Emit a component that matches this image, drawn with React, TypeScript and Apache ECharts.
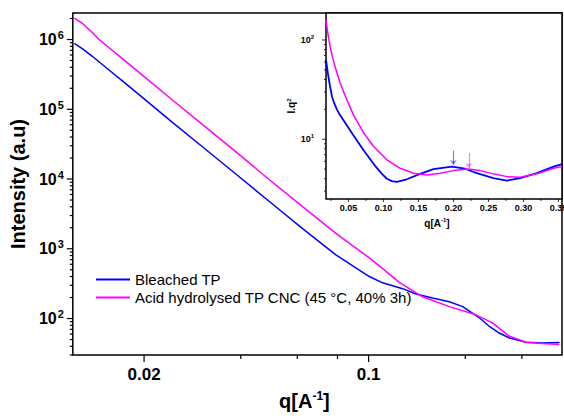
import React, { useEffect, useRef } from 'react';
import * as echarts from 'echarts';

const F = '"Liberation Sans", Arial, sans-serif';

// ---- Main plot data (q, intensity) ----
const qBleached = [0.01213, 0.01284, 0.0138, 0.01518, 0.01712, 0.01929, 0.0245, 0.03038, 0.0386, 0.049, 0.0623, 0.0791, 0.1005, 0.1106, 0.1276, 0.1404, 0.1582, 0.1784, 0.1963, 0.211, 0.225, 0.2378, 0.255, 0.2745, 0.309, 0.348, 0.393];
const iBleached = [8.8e5, 7.4e5, 5.75e5, 4.0e5, 2.55e5, 1.62e5, 6.5e4, 2.9e4, 1.18e4, 4800, 1950, 820, 400, 325, 268, 225, 197, 174, 148, 119, 96, 77, 62, 52.6, 45.7, 44.7, 45.2];

const qAcid = [0.01213, 0.01284, 0.0138, 0.01448, 0.01712, 0.01929, 0.0245, 0.0311, 0.0395, 0.049, 0.0623, 0.0791, 0.1005, 0.1106, 0.1246, 0.1473, 0.1784, 0.216, 0.2434, 0.2745, 0.309, 0.348, 0.393];
const iAcid = [2.03e6, 1.71e6, 1.26e6, 1.0e6, 5.32e5, 3.38e5, 1.36e5, 5.56e4, 2.26e4, 9840, 4010, 1660, 740, 520, 330, 205, 148, 113, 85.7, 55.6, 45.7, 43.8, 42.4];

// ---- Inset data (q, I.q^2) ----
const qInsetBleached = [0.018, 0.0205, 0.0235, 0.0265, 0.03, 0.0335, 0.037, 0.0453, 0.0571, 0.0714, 0.0881, 0.0975, 0.1049, 0.112, 0.1191, 0.1334, 0.1524, 0.1714, 0.1977, 0.2143, 0.2334, 0.2571, 0.2763, 0.2953, 0.3191, 0.3429, 0.3549];
const iqInsetBleached = [63, 47, 35, 27, 22.8, 20, 18, 14.7, 11, 7.8, 5.4, 4.5, 4.0, 3.78, 3.72, 3.95, 4.48, 4.99, 5.3, 5.1, 4.55, 4.05, 3.83, 4.05, 4.55, 5.3, 5.6];

const qInsetAcid = [0.018, 0.0205, 0.024, 0.0275, 0.031, 0.038, 0.0453, 0.0571, 0.0714, 0.0857, 0.1049, 0.1239, 0.1429, 0.162, 0.181, 0.2, 0.2214, 0.2381, 0.2571, 0.2763, 0.2953, 0.3191, 0.3429, 0.3549];
const iqInsetAcid = [159, 118, 85, 66, 53.8, 37, 27.5, 17.6, 11.7, 8.5, 6.2, 5.1, 4.55, 4.37, 4.55, 4.83, 5.02, 4.83, 4.48, 4.2, 4.14, 4.48, 5.1, 5.3];

const seriesNames = ['Bleached TP', 'Acid hydrolysed TP CNC (45 °C, 40% 3h)'];
const colors = ['#0000ff', '#ff00ff'];

// peak arrows in inset
const arrowQ = [0.2, 0.222];
const arrowTail = [7.7, 7.3];
const arrowTip = [5.5, 5.14];

// ---- Axes ----
const MAIN_X = [0.012, 0.4];
const MAIN_Y = [30, 2.4e6];
const INSET_X = [0.018, 0.355];
const INSET_Y = [2.5, 187];

const mainXMajorTicks = [0.02, 0.1];
const mainXMajorLabels = ['0.02', '0.1'];
const mainXMinorTicks = [0.04, 0.06, 0.08, 0.2, 0.3];
const mainYExponents = [1, 2, 3, 4, 5, 6];
const insetYExponents = [0, 1, 2];
const insetXMajorTicks = [0.05, 0.1, 0.15, 0.2, 0.25, 0.3, 0.35];
const insetXMajorLabels = ['0.05', '0.10', '0.15', '0.20', '0.25', '0.30', '0.35'];
const insetXMinorTicks = [0.025, 0.075, 0.125, 0.175, 0.225, 0.275, 0.325];

function logTicks(exps: number[], lo: number, hi: number): number[][] {
  const out: number[][] = [];
  exps.forEach((e) => {
    for (let k = 1; k <= 9; k++) {
      const v = k * Math.pow(10, e);
      if (v >= lo * 0.999 && v <= hi) out.push([v, k === 1 ? 1 : 0]);
    }
  });
  return out;
}

function tickSeries(o: any) {
  return {
    type: 'custom',
    xAxisIndex: o.axis,
    yAxisIndex: o.axis,
    silent: true,
    clip: false,
    z: 10,
    data: o.data,
    renderItem: (params: any, api: any) => {
      const p = api.coord([api.value(0), api.value(1)]);
      const major = api.value(2) === 1;
      const len = major ? o.majorLen : o.minorLen;
      const children: any[] = [];
      if (o.dir === 'x') {
        children.push({ type: 'line', shape: { x1: p[0], y1: p[1], x2: p[0], y2: p[1] + len }, style: { stroke: '#000', lineWidth: o.lw } });
      } else {
        children.push({ type: 'line', shape: { x1: p[0] - len, y1: p[1], x2: p[0], y2: p[1] }, style: { stroke: '#000', lineWidth: o.lw } });
      }
      const lbl = o.labels ? o.labels[params.dataIndex] : undefined;
      if (lbl) {
        children.push({
          type: 'text', x: p[0], y: p[1] + o.labelOffset,
          style: { text: lbl, fill: '#000', fontSize: o.fontSize, fontWeight: 'bold', fontFamily: F, align: 'center', verticalAlign: 'middle' },
        });
      }
      return { type: 'group', children };
    },
  };
}

function powLabel(v: number) {
  const l = Math.log10(v);
  const e = Math.round(l);
  if (Math.abs(l - e) > 1e-6) return '';
  return `{b|10}{s|${e}}`;
}

export default function App() {
  const ref = useRef<HTMLDivElement>(null);
  useEffect(() => {
    if (!ref.current) return;
    const chart = echarts.init(ref.current, null, { renderer: 'svg' });

    const mainYT = logTicks(mainYExponents, MAIN_Y[0], MAIN_Y[1]).map((t) => [MAIN_X[0], t[0], t[1]]);
    const insetYT = logTicks(insetYExponents, INSET_Y[0], INSET_Y[1]).map((t) => [INSET_X[0], t[0], t[1]]);
    const mainXT = [...mainXMajorTicks.map((v) => [v, MAIN_Y[0], 1]), ...mainXMinorTicks.map((v) => [v, MAIN_Y[0], 0])];
    const insetXT = [...insetXMajorTicks.map((v) => [v, INSET_Y[0], 1]), ...insetXMinorTicks.map((v) => [v, INSET_Y[0], 0])];

    chart.setOption({
      animation: false,
      backgroundColor: '#fff',
      textStyle: { fontFamily: F },
      grid: [
        { left: 72, top: 13, right: 2, bottom: 57, show: true, borderColor: '#000', borderWidth: 1.5, backgroundColor: 'transparent' },
        { left: 326, top: 13, right: 2, bottom: 217, show: true, borderColor: '#000', borderWidth: 1.5, backgroundColor: '#fff', z: 5 },
      ],
      legend: {
        data: seriesNames,
        orient: 'vertical',
        left: 91,
        top: 267,
        icon: 'rect',
        itemWidth: 34,
        itemHeight: 2,
        itemGap: 3,
        textStyle: { fontSize: 15, fontFamily: F, color: '#000' },
      },
      xAxis: [
        {
          type: 'log', gridIndex: 0, min: MAIN_X[0], max: MAIN_X[1],
          axisLine: { show: false }, axisTick: { show: false }, axisLabel: { show: false }, splitLine: { show: false },
          name: '{a|q[A}{s|-1}{a|]}', nameLocation: 'middle', nameGap: 35,
          nameTextStyle: {
            padding: [0, 26, 0, 0],
            rich: {
              a: { fontSize: 20, fontWeight: 'bold', fontFamily: F, color: '#000', lineHeight: 22 },
              s: { fontSize: 12, fontWeight: 'bold', fontFamily: F, color: '#000', verticalAlign: 'top', lineHeight: 12 },
            },
          },
        },
        {
          type: 'value', gridIndex: 1, min: INSET_X[0], max: INSET_X[1],
          axisLine: { show: false }, axisTick: { show: false }, axisLabel: { show: false }, splitLine: { show: false },
          name: '{a|q[A}{s|-1}{a|]}', nameLocation: 'middle', nameGap: 18,
          nameTextStyle: {
            padding: [0, 14, 0, 0],
            rich: {
              a: { fontSize: 10, fontWeight: 'bold', fontFamily: F, color: '#000', lineHeight: 12 },
              s: { fontSize: 6, fontWeight: 'bold', fontFamily: F, color: '#000', verticalAlign: 'top', lineHeight: 6 },
            },
          },
        },
      ],
      yAxis: [
        {
          type: 'log', gridIndex: 0, min: MAIN_Y[0], max: MAIN_Y[1],
          axisLine: { show: false }, axisTick: { show: false }, splitLine: { show: false },
          axisLabel: {
            margin: 9,
            formatter: powLabel,
            rich: {
              b: { fontSize: 16, fontWeight: 'bold', fontFamily: F, color: '#000', lineHeight: 20 },
              s: { fontSize: 11, fontWeight: 'bold', fontFamily: F, color: '#000', verticalAlign: 'top', lineHeight: 11, padding: [0, 0, 0, 1] },
            },
          },
          name: 'Intensity (a.u)', nameLocation: 'middle', nameGap: 42,
          nameTextStyle: { fontSize: 20, fontWeight: 'bold', fontFamily: F, color: '#000' },
        },
        {
          type: 'log', gridIndex: 1, min: INSET_Y[0], max: INSET_Y[1],
          axisLine: { show: false }, axisTick: { show: false }, splitLine: { show: false },
          axisLabel: {
            margin: 12,
            formatter: (v: number) => (Math.abs(Math.log10(v) - Math.round(Math.log10(v))) < 1e-6 && v > 5 ? powLabel(v) : ''),
            rich: {
              b: { fontSize: 9, fontWeight: 'bold', fontFamily: F, color: '#000', lineHeight: 12 },
              s: { fontSize: 6, fontWeight: 'bold', fontFamily: F, color: '#000', verticalAlign: 'top', lineHeight: 6 },
            },
          },
          name: '{a|I.q}{s|2}', nameLocation: 'middle', nameGap: 25,
          nameTextStyle: {
            rich: {
              a: { fontSize: 10, fontWeight: 'bold', fontFamily: F, color: '#000', lineHeight: 12 },
              s: { fontSize: 6, fontWeight: 'bold', fontFamily: F, color: '#000', verticalAlign: 'top', lineHeight: 6 },
            },
          },
        },
      ],
      series: [
        {
          name: seriesNames[0], type: 'line', xAxisIndex: 0, yAxisIndex: 0,
          data: qBleached.map((q, i) => [q, iBleached[i]]),
          symbol: 'none',
          lineStyle: { color: colors[0], width: 1.5 }, itemStyle: { color: colors[0] },
        },
        {
          name: seriesNames[1], type: 'line', xAxisIndex: 0, yAxisIndex: 0,
          data: qAcid.map((q, i) => [q, iAcid[i]]),
          symbol: 'none',
          lineStyle: { color: colors[1], width: 1.5 }, itemStyle: { color: colors[1] },
        },
        {
          name: 'inset-bleached', type: 'line', xAxisIndex: 1, yAxisIndex: 1, z: 6,
          data: qInsetBleached.map((q, i) => [q, iqInsetBleached[i]]),
          symbol: 'none',
          lineStyle: { color: colors[0], width: 1.8 },
        },
        {
          name: 'inset-acid', type: 'line', xAxisIndex: 1, yAxisIndex: 1, z: 6,
          data: qInsetAcid.map((q, i) => [q, iqInsetAcid[i]]),
          symbol: 'none',
          lineStyle: { color: colors[1], width: 1.5 },
        },
        {
          type: 'lines', coordinateSystem: 'cartesian2d', xAxisIndex: 1, yAxisIndex: 1, z: 7,
          symbol: ['none', 'arrow'], symbolSize: 5, silent: true,
          data: arrowQ.map((q, i) => ({ coords: [[q, arrowTail[i]], [q, arrowTip[i]]], lineStyle: { color: colors[i], width: 1.2 } })),
        },
        tickSeries({ axis: 0, dir: 'y', data: mainYT, majorLen: 6, minorLen: 3, lw: 1.2 }),
        tickSeries({ axis: 0, dir: 'x', data: mainXT, majorLen: 7, minorLen: 4, lw: 1.2, labels: mainXMajorLabels, labelOffset: 19, fontSize: 17 }),
        tickSeries({ axis: 1, dir: 'y', data: insetYT, majorLen: 4, minorLen: 2, lw: 0.8 }),
        tickSeries({ axis: 1, dir: 'x', data: insetXT, majorLen: 3, minorLen: 2, lw: 0.8, labels: insetXMajorLabels, labelOffset: 9, fontSize: 9 }),
      ],
    });
    return () => chart.dispose();
  }, []);
  return <div ref={ref} style={{ position: 'fixed', left: 0, top: 0, width: 564, height: 416, background: '#fff' }} />;
}
